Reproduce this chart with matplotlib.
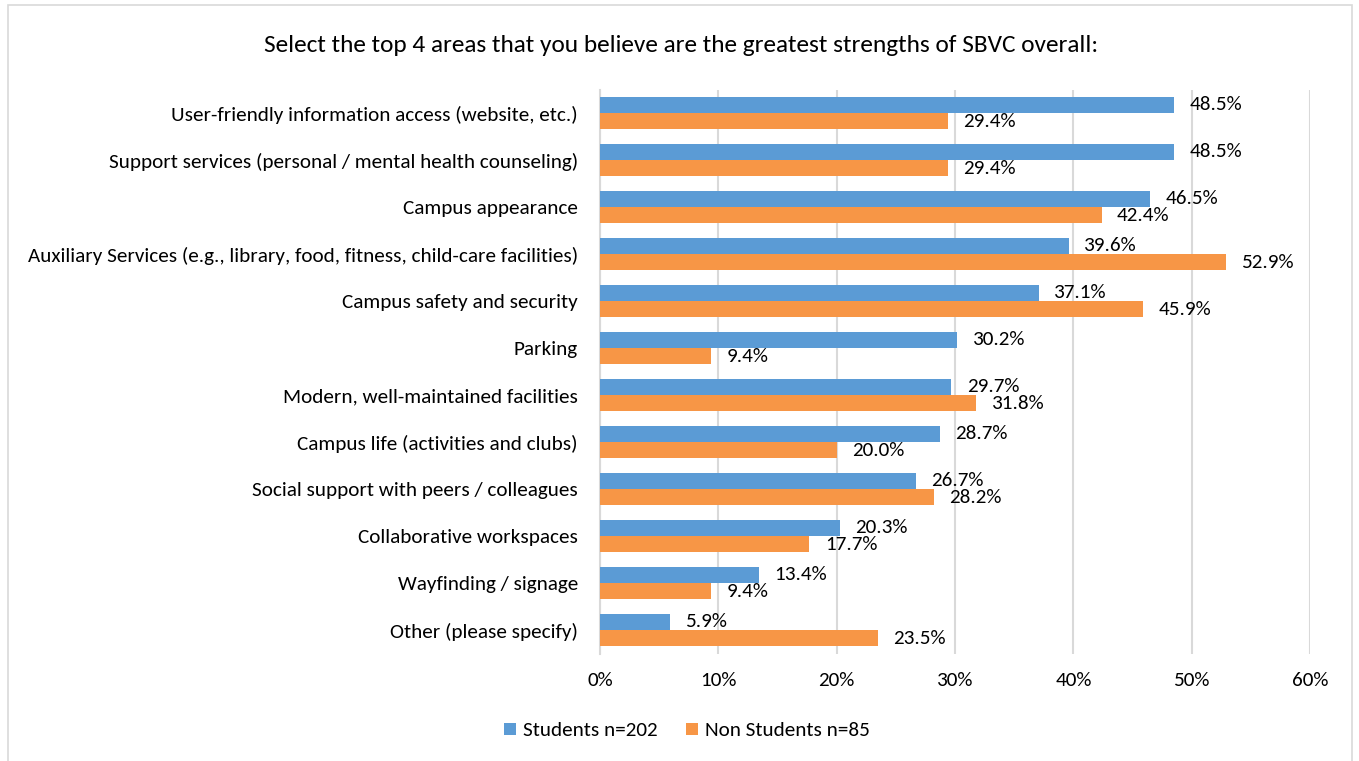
import numpy as np
import matplotlib.pyplot as plt
from matplotlib.patches import Rectangle

plt.rcParams['font.family'] = ['Carlito', 'Liberation Sans', 'DejaVu Sans']

# 数据
categories = [
    'User-friendly information access (website, etc.)',
    'Support services (personal / mental health counseling)',
    'Campus appearance',
    'Auxiliary Services (e.g., library, food, fitness, child-care facilities)',
    'Campus safety and security',
    'Parking',
    'Modern, well-maintained facilities',
    'Campus life (activities and clubs)',
    'Social support with peers / colleagues',
    'Collaborative workspaces',
    'Wayfinding / signage',
    'Other (please specify)',
]
students = [48.5, 48.5, 46.5, 39.6, 37.1, 30.2, 29.7, 28.7, 26.7, 20.3, 13.4, 5.9]
non_students = [29.4, 29.4, 42.4, 52.9, 45.9, 9.4, 31.8, 20.0, 28.2, 17.7, 9.4, 23.5]
xticks = [0, 10, 20, 30, 40, 50, 60]
title = 'Select the top 4 areas that you believe are the greatest strengths of SBVC overall:'
legend_labels = ['Students n=202', 'Non Students n=85']

BLUE = '#5B9BD5'
ORANGE = '#F79646'
GRID = '#D9D9D9'
FS = 15.2

W, H = 1359, 761
fig = plt.figure(figsize=(W / 100, H / 100), dpi=100)

# 外框
fig.patches.append(Rectangle((8 / W, -0.05), 1344 / W, 1.05 - 5 / H, transform=fig.transFigure,
                             fill=False, edgecolor='#D9D9D9', linewidth=1.2))

ax = fig.add_axes([600 / W, 1 - 653.5 / H, 710 / W, 564 / H])

n = len(categories)
y = np.arange(n)
h = 0.35
ax.barh(y - h / 2, students, height=h, color=BLUE, label=legend_labels[0], zorder=3)
ax.barh(y + h / 2, non_students, height=h, color=ORANGE, label=legend_labels[1], zorder=3)

for i in range(n):
    ax.annotate(f'{students[i]:.1f}%', (students[i], y[i] - h / 2), xytext=(11, 0),
                textcoords='offset points', va='center', ha='left', fontsize=FS)
    ax.annotate(f'{non_students[i]:.1f}%', (non_students[i], y[i] + h / 2), xytext=(11, 0),
                textcoords='offset points', va='center', ha='left', fontsize=FS)

ax.set_ylim(n - 0.5, -0.5)
ax.set_xlim(0, 60)
ax.set_xticks(xticks)
ax.set_xticklabels([f'{t}%' for t in xticks], fontsize=FS)
ax.set_yticks(y)
ax.set_yticklabels(categories, fontsize=FS)
ax.tick_params(axis='both', length=0)
ax.tick_params(axis='y', pad=16)
ax.tick_params(axis='x', pad=13)
ax.grid(axis='x', color=GRID, linewidth=1.5, zorder=0)
for s in ['top', 'right', 'bottom']:
    ax.spines[s].set_visible(False)
ax.spines['left'].set_color(GRID)
ax.spines['left'].set_linewidth(1.5)

fig.text(681 / W, 1 - 45 / H, title, ha='center', va='center', fontsize=18.3)

fig.legend(loc='center', bbox_to_anchor=(687 / W, 1 - 731 / H), ncol=2, frameon=False,
           fontsize=FS, handlelength=0.55, handleheight=0.55, handletextpad=0.35,
           columnspacing=1.35)

fig.savefig('out.png', dpi=100)
